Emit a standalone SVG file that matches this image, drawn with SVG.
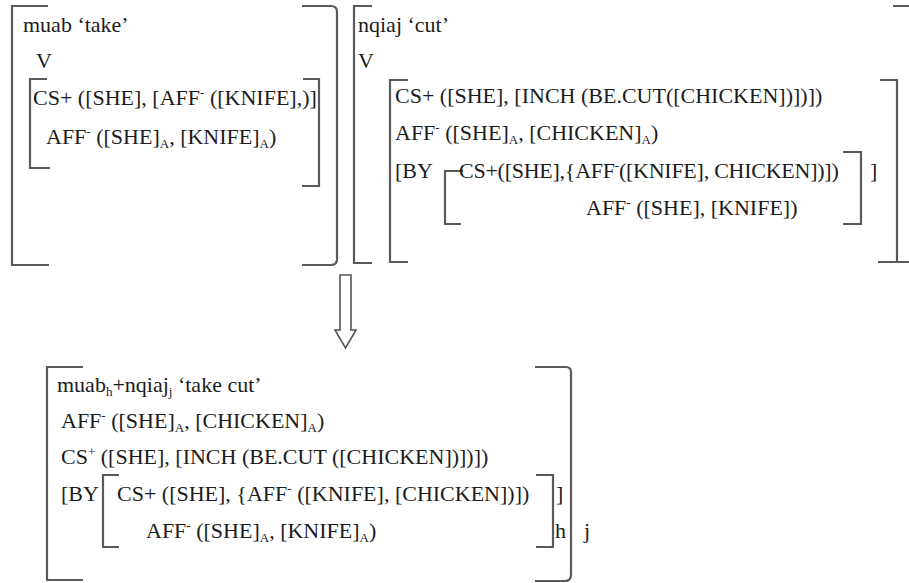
<svg xmlns="http://www.w3.org/2000/svg" width="909" height="583" viewBox="0 0 909 583">
<style>
.t{font-family:"Liberation Serif","Times New Roman",serif;font-size:22px;fill:#1c1c1c}
.s{font-size:13px}
.n{letter-spacing:-0.25px}
.b{fill:none;stroke:#5a5a5a;stroke-width:2.2}
.a{fill:#fff;stroke:#555;stroke-width:1.6}
</style>
<rect width="909" height="583" fill="#fff"/>
<g id="muab">
<path class="b" d="M48,6 H12 V265 H49"/>
<path class="b" d="M302,6 H331 Q337,6 337,12 V259 Q337,265 331,265 H302"/>
<path class="b" d="M47,79 H30 V168 H50"/>
<path class="b" d="M303,79 H319 V186 H302"/>
<text class="t" x="23" y="32">muab ‘take’</text>
<text class="t" x="36" y="68">V</text>
<text class="t" x="33" y="105">CS+ ([SHE], [AFF<tspan class="s" dy="-8">-</tspan><tspan dy="8"> ([KNIFE],)]</tspan></text>
<text class="t" x="46" y="144">AFF<tspan class="s" dy="-8">-</tspan><tspan dy="8"> ([SHE]</tspan><tspan class="s" dy="4">A</tspan><tspan dy="-4">, [KNIFE]</tspan><tspan class="s" dy="4">A</tspan><tspan dy="-4">)</tspan></text>
</g>
<g id="nqiaj">
<path class="b" d="M372,6 H354 V263 H372"/>
<path class="b" d="M408,80 H390 V262 H408"/>
<path class="b" d="M880,80 H897 V262 H878"/>
<path class="b" d="M893,6 H909 M897,262 H909"/>
<path class="b" d="M463,171 H445 V224 H461"/>
<path class="b" d="M843,152 H861 V224 H843"/>
<text class="t" x="358" y="32">nqiaj ‘cut’</text>
<text class="t" x="358" y="68">V</text>
<text class="t" x="395" y="103">CS+ ([SHE], [INCH (BE.CUT([CHICKEN])])])</text>
<text class="t" x="395" y="140">AFF<tspan class="s" dy="-8">-</tspan><tspan dy="8"> ([SHE]</tspan><tspan class="s" dy="4">A</tspan><tspan dy="-4">, [CHICKEN]</tspan><tspan class="s" dy="4">A</tspan><tspan dy="-4">)</tspan></text>
<text class="t" x="395" y="178">[BY</text>
<text class="t n" x="459" y="178">CS+([SHE],{AFF<tspan class="s" dy="-8">-</tspan><tspan dy="8">([KNIFE], CHICKEN])])</tspan></text>
<text class="t" x="870" y="178">]</text>
<text class="t" x="586" y="215">AFF<tspan class="s" dy="-8">-</tspan><tspan dy="8"> ([SHE], [KNIFE])</tspan></text>
</g>
<g id="connectors">
<polygon class="a" points="340,275 351,275 351,330 356,330 345.5,348 335,330 340,330"/>
</g>
<g id="merged">
<path class="b" d="M83,367 H47 V580 H83"/>
<path class="b" d="M535,367 H566 Q571,367 571,372 V575 Q571,581 565,581 H535"/>
<path class="b" d="M119,475 H103 V547 H119"/>
<path class="b" d="M536,475 H553 V547 H536"/>
<text class="t" x="57" y="392">muab<tspan class="s" dy="4">h</tspan><tspan dy="-4">+nqiaj</tspan><tspan class="s" dy="4">j</tspan><tspan dy="-4"> ‘take cut’</tspan></text>
<text class="t" x="61" y="428">AFF<tspan class="s" dy="-8">-</tspan><tspan dy="8"> ([SHE]</tspan><tspan class="s" dy="4">A</tspan><tspan dy="-4">, [CHICKEN]</tspan><tspan class="s" dy="4">A</tspan><tspan dy="-4">)</tspan></text>
<text class="t" x="61" y="464">CS<tspan class="s" dy="-8">+</tspan><tspan dy="8"> ([SHE], [INCH (BE.CUT ([CHICKEN])])])</tspan></text>
<text class="t" x="61" y="501">[BY</text>
<text class="t" x="117" y="501">CS+ ([SHE], {AFF<tspan class="s" dy="-8">-</tspan><tspan dy="8"> ([KNIFE], [CHICKEN])])</tspan></text>
<text class="t" x="556" y="501">]</text>
<text class="t" x="146" y="538">AFF<tspan class="s" dy="-8">-</tspan><tspan dy="8"> ([SHE]</tspan><tspan class="s" dy="4">A</tspan><tspan dy="-4">, [KNIFE]</tspan><tspan class="s" dy="4">A</tspan><tspan dy="-4">)</tspan></text>
<text class="t" x="555" y="538">h</text>
<text class="t" x="584" y="538">j</text>
</g>
</svg>
